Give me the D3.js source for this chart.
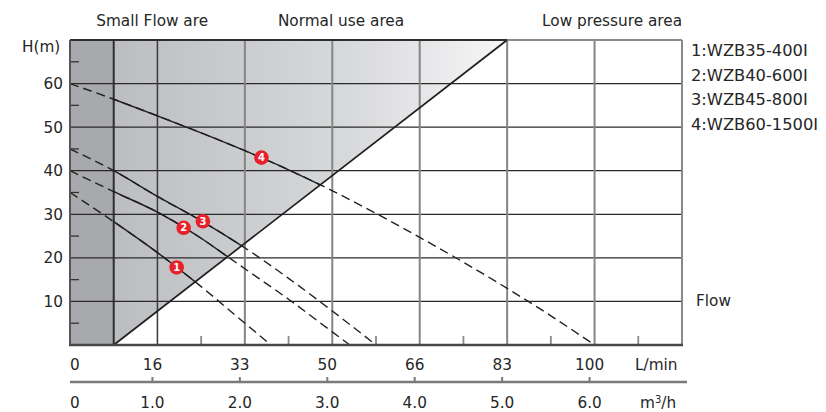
<!DOCTYPE html>
<html>
<head>
<meta charset="utf-8">
<script src="https://cdn.jsdelivr.net/npm/d3@7"></script>
<style>
  html, body { margin: 0; padding: 0; background: #fff; }
  svg { display: block; font-family: "DejaVu Sans", "Open Sans", sans-serif; }
</style>
</head>
<body>
<svg id="chart" width="826" height="412"></svg>
<script>
// ---- data ----
const areaTitles = ["Small Flow are", "Normal use area", "Low pressure area"];
const yTicks = [10, 20, 30, 40, 50, 60];
const yMinorTicks = [5, 15, 25, 35, 45, 55, 65];
const xTicksM3h = [0, 1, 2, 3, 4, 5, 6];
const xLabelsLmin = ["0", "16", "33", "50", "66", "83", "100"];
const xLabelsM3h = ["0", "1.0", "2.0", "3.0", "4.0", "5.0", "6.0"];
const xMinorTicks = [1.5, 2.5, 3.5, 4.5, 5.5, 6.5];
const legendLabels = ["1:WZB35-400I", "2:WZB40-600I", "3:WZB45-800I", "4:WZB60-1500I"];

const q1 = [0, 0.5, 1, 1.5, 2, 2.3];
const h1 = [35, 28.3, 21.2, 13.4, 5, 0];
const q2 = [0, 0.5, 1, 1.5, 1.8, 2, 2.5, 3, 3.2];
const h2 = [40, 35.2, 30.5, 24.5, 20.3, 17.5, 10.5, 3, 0];
const q3 = [0, 0.5, 1, 1.5, 2, 2.5, 3, 3.5];
const h3 = [45, 40, 34.1, 28.5, 22.3, 15.3, 7.8, 0];
const q4 = [0, 0.5, 1, 1.5, 2, 2.5, 3, 3.5, 4, 4.5, 5, 5.5, 6];
const h4 = [60, 56.4, 52.6, 48.7, 44.6, 40.2, 35.4, 30.2, 24.7, 19, 13, 6.7, 0];
const seriesQ = [q1, q2, q3, q4];
const seriesH = [h1, h2, h3, h4];

const markerQ = [1.22, 1.30, 1.52, 2.19];
const markerH = [17.8, 26.9, 28.4, 43];
const markerLabels = ["1", "2", "3", "4"];

const smallFlowLimit = 0.5;   // m3/h
const diagTopQ = 5;           // m3/h where boundary line hits top
const yMax = 70, xMax = 7;

// ---- scales ----
const svg = d3.select("#chart");
const x = d3.scaleLinear().domain([0, xMax]).range([70, 682]);
const y = d3.scaleLinear().domain([0, yMax]).range([345, 40]);
const xb = d3.scaleLinear().domain([0, xMax]).range([65, 677]);

const FS = 15.3, TXT = "#262626";

// gradient
const defs = svg.append("defs");
const grad = defs.append("linearGradient").attr("id", "g1")
  .attr("gradientUnits", "userSpaceOnUse")
  .attr("x1", x(smallFlowLimit)).attr("x2", x(diagTopQ)).attr("y1", 0).attr("y2", 0);
grad.append("stop").attr("offset", 0).attr("stop-color", "#bcbdc0");
grad.append("stop").attr("offset", 0.6).attr("stop-color", "#d8d9db");
grad.append("stop").attr("offset", 1).attr("stop-color", "#f6f6f7");

const normalPoly = [[smallFlowLimit, 0], [smallFlowLimit, yMax], [diagTopQ, yMax]];
const polyStr = normalPoly.map(p => [x(p[0]), y(p[1])].join(",")).join(" ");
defs.append("clipPath").attr("id", "clipN").append("polygon").attr("points", polyStr);
defs.append("clipPath").attr("id", "clipPlot").append("rect")
  .attr("x", x(0)).attr("y", y(yMax)).attr("width", x(xMax) - x(0)).attr("height", y(0) - y(yMax));

// backgrounds
svg.append("rect").attr("x", x(0)).attr("y", y(yMax))
  .attr("width", x(smallFlowLimit) - x(0)).attr("height", y(0) - y(yMax))
  .attr("fill", "#a8a9ac");
svg.append("polygon").attr("points", polyStr).attr("fill", "url(#g1)");

// horizontal grid
svg.append("g").selectAll("line").data(yTicks).join("line")
  .attr("x1", x(0)).attr("x2", x(xMax)).attr("y1", d => y(d)).attr("y2", d => y(d))
  .attr("stroke", "#2a2a2a").attr("stroke-width", 1.3);
// vertical grid
svg.append("g").selectAll("line").data(xTicksM3h.slice(1)).join("line")
  .attr("x1", d => x(d)).attr("x2", d => x(d)).attr("y1", y(0)).attr("y2", y(yMax))
  .attr("stroke", d => d === 1 ? "#3a3a3a" : "#858585").attr("stroke-width", d => d === 1 ? 1.5 : 2);
// minor ticks
svg.append("g").selectAll("line").data(yMinorTicks).join("line")
  .attr("x1", x(0)).attr("x2", x(0) + 9).attr("y1", d => y(d)).attr("y2", d => y(d))
  .attr("stroke", "#333").attr("stroke-width", 1.3);
svg.append("g").selectAll("line").data(xMinorTicks).join("line")
  .attr("x1", d => x(d)).attr("x2", d => x(d)).attr("y1", y(0)).attr("y2", y(0) - 9)
  .attr("stroke", "#8a8a8a").attr("stroke-width", 1.8);

// small-flow boundary
svg.append("line").attr("x1", x(smallFlowLimit)).attr("x2", x(smallFlowLimit))
  .attr("y1", y(0)).attr("y2", y(yMax)).attr("stroke", "#2e2e2e").attr("stroke-width", 2);

// curves
const line = d3.line().x(d => x(d[0])).y(d => y(d[1])).curve(d3.curveMonotoneX);
const curves = seriesQ.map((qs, i) => qs.map((q, j) => [q, seriesH[i][j]]));
svg.append("g").attr("clip-path", "url(#clipPlot)").selectAll("path").data(curves).join("path")
  .attr("d", line).attr("fill", "none").attr("stroke", "#222").attr("stroke-width", 1.4)
  .attr("stroke-dasharray", "9,5");
svg.append("g").attr("clip-path", "url(#clipN)").selectAll("path").data(curves).join("path")
  .attr("d", line).attr("fill", "none").attr("stroke", "#1e1e1e").attr("stroke-width", 1.4);

// diagonal
svg.append("line").attr("x1", x(smallFlowLimit)).attr("y1", y(0))
  .attr("x2", x(diagTopQ)).attr("y2", y(yMax)).attr("stroke", "#1e1e1e").attr("stroke-width", 1.7);

// borders
svg.append("line").attr("x1", x(0)).attr("x2", x(xMax)).attr("y1", y(yMax)).attr("y2", y(yMax))
  .attr("stroke", "#8a8a8a").attr("stroke-width", 2);
svg.append("line").attr("x1", x(0)).attr("x2", x(diagTopQ)).attr("y1", y(yMax)).attr("y2", y(yMax))
  .attr("stroke", "#2e2e2e").attr("stroke-width", 2.2);
svg.append("line").attr("x1", x(xMax)).attr("x2", x(xMax)).attr("y1", y(yMax)).attr("y2", y(0))
  .attr("stroke", "#8a8a8a").attr("stroke-width", 2);
svg.append("line").attr("x1", x(0)).attr("x2", x(0)).attr("y1", y(yMax)).attr("y2", y(0))
  .attr("stroke", "#555").attr("stroke-width", 2);
svg.append("line").attr("x1", x(0) - 1).attr("x2", x(xMax) + 1).attr("y1", y(0)).attr("y2", y(0))
  .attr("stroke", "#474747").attr("stroke-width", 2.6);

// markers
const mk = svg.append("g").selectAll("g").data(markerQ).join("g")
  .attr("transform", (d, i) => `translate(${x(d)},${y(markerH[i])})`);
mk.append("circle").attr("r", 7.3).attr("fill", "#e8202a");
mk.append("text").text((d, i) => markerLabels[i]).attr("text-anchor", "middle")
  .attr("dy", "0.36em").attr("fill", "#fff").attr("font-size", 10).attr("font-weight", 700);

// y labels
svg.append("g").selectAll("text").data(yTicks).join("text")
  .attr("x", 63).attr("y", d => y(d)).attr("dy", "0.36em").attr("text-anchor", "end")
  .attr("font-size", FS).attr("fill", TXT).text(d => d);
svg.append("text").attr("x", 22).attr("y", 46).attr("dy", "0.36em")
  .attr("font-size", FS).attr("fill", TXT).text("H(m)");

// area titles
const titleQ = [0.94, 3.1, 6.2];
svg.append("g").selectAll("text").data(areaTitles).join("text")
  .attr("x", (d, i) => x(titleQ[i])).attr("y", 20).attr("dy", "0.36em").attr("text-anchor", "middle")
  .attr("font-size", FS).attr("fill", TXT).text(d => d);

// bottom axes
svg.append("g").selectAll("text").data(xTicksM3h).join("text")
  .attr("x", d => d === 0 ? 70 : xb(d)).attr("y", 364).attr("dy", "0.36em")
  .attr("text-anchor", d => d === 0 ? "start" : "middle")
  .attr("font-size", FS).attr("fill", TXT).text((d, i) => xLabelsLmin[i]);
svg.append("text").attr("x", 635).attr("y", 364).attr("dy", "0.36em")
  .attr("font-size", FS).attr("fill", TXT).text("L/min");
svg.append("line").attr("x1", 70).attr("x2", 687).attr("y1", 382).attr("y2", 382)
  .attr("stroke", "#7a7a7a").attr("stroke-width", 2.5);
svg.append("g").selectAll("line").data(xTicksM3h.slice(1)).join("line")
  .attr("x1", d => xb(d)).attr("x2", d => xb(d)).attr("y1", 382).attr("y2", 377)
  .attr("stroke", "#7a7a7a").attr("stroke-width", 2);
svg.append("g").selectAll("text").data(xTicksM3h).join("text")
  .attr("x", d => d === 0 ? 70 : xb(d)).attr("y", 402).attr("dy", "0.36em")
  .attr("text-anchor", d => d === 0 ? "start" : "middle")
  .attr("font-size", FS).attr("fill", TXT).text((d, i) => xLabelsM3h[i]);
const m3 = svg.append("text").attr("x", 640).attr("y", 402).attr("dy", "0.36em")
  .attr("font-size", FS).attr("fill", TXT);
m3.append("tspan").text("m");
m3.append("tspan").attr("font-size", 10).attr("dy", "-0.5em").text("3");
m3.append("tspan").attr("dy", "0.35em").text("/h");

// legend
svg.append("g").selectAll("text").data(legendLabels).join("text")
  .attr("x", 691).attr("y", (d, i) => 50 + i * 24.7).attr("dy", "0.36em")
  .attr("font-size", 16.3).attr("fill", TXT).text(d => d);
svg.append("text").attr("x", 696).attr("y", 300).attr("dy", "0.36em")
  .attr("font-size", FS).attr("fill", TXT).text("Flow");
</script>
</body>
</html>
